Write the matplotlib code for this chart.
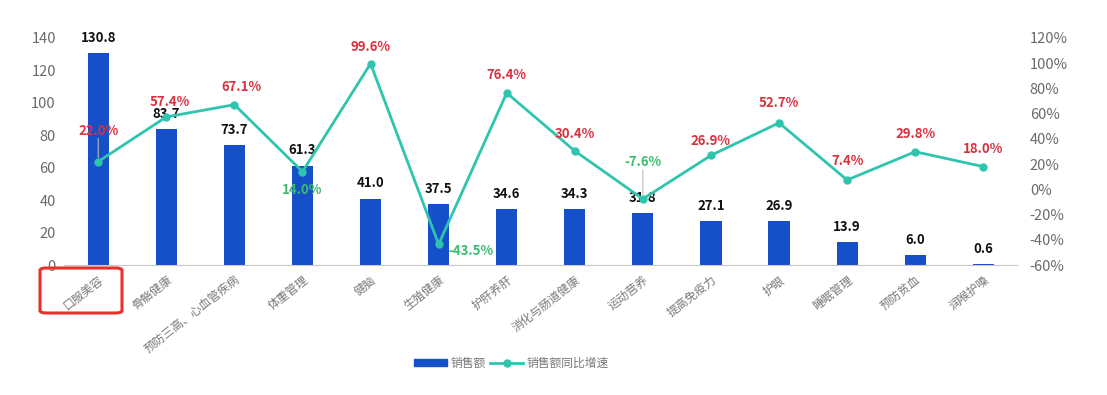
import matplotlib
matplotlib.use('Agg')
import matplotlib.pyplot as plt
from matplotlib.patches import FancyBboxPatch
from matplotlib.lines import Line2D
from matplotlib.patches import Patch
import numpy as np

plt.rcParams['font.family'] = ['Noto Sans CJK SC', 'DejaVu Sans']

# data
categories = ['口服美容', '骨骼健康', '预防三高、心血管疾病', '体重管理', '健脑', '生殖健康',
              '护肝养肝', '消化与肠道健康', '运动营养', '提高免疫力', '护眼', '睡眠管理',
              '预防贫血', '润喉护嗓']
sales = [130.8, 83.7, 73.7, 61.3, 41.0, 37.5, 34.6, 34.3, 31.8, 27.1, 26.9, 13.9, 6.0, 0.6]
growth = [22.0, 57.4, 67.1, 14.0, 99.6, -43.5, 76.4, 30.4, -7.6, 26.9, 52.7, 7.4, 29.8, 18.0]

# label placement (offset in px from the point) and colours
growth_offsets = [(0, 31), (3, 15), (7, 18), (0, -18), (0, 17), (32, -7), (0, 18),
                  (0, 17), (0, 37), (0, 14), (0, 20), (0, 19), (0, 18), (0, 18)]
leader = [True, False, False, False, False, False, False, False, True,
          False, False, False, False, False]
red = '#d9323f'
green = '#3dba6e'
label_colors = [green if (g < 0 or i == 3) else red for i, g in enumerate(growth)]

bar_color = '#1550c9'
line_color = '#2fc4ae'
grey = '#6a6a6a'

fig = plt.figure(figsize=(11.07, 3.95), dpi=100)
ax = fig.add_axes([0.058, 0.329, 0.861, 0.575])
ax2 = ax.twinx()

x = np.arange(len(categories))
ax.bar(x, sales, width=0.31, color=bar_color, zorder=2)
ax.set_xlim(-0.5, len(categories) - 0.5)
ax.set_ylim(0, 140)
ax.set_yticks(np.arange(0, 141, 20))
ax.tick_params(axis='y', length=0, labelsize=10.5, labelcolor=grey, pad=6)
ax.tick_params(axis='x', length=0, pad=6)
ax.set_xticks(x)
ax.set_xticklabels(categories, rotation=38, ha='right', rotation_mode='anchor',
                   fontsize=8.5, color='#7a7a7a')
for s in ['top', 'left', 'right']:
    ax.spines[s].set_visible(False)
    ax2.spines[s].set_visible(False)
ax2.spines['bottom'].set_visible(False)
ax.spines['bottom'].set_color('#c8c8c8')

for xi, v in zip(x, sales):
    ax.annotate(f'{v:.1f}', (xi, v), xytext=(0, 6), textcoords='offset points',
                ha='center', va='bottom', fontsize=9.5, fontweight='bold', color='#111111')

ax2.plot(x, growth, color=line_color, lw=2, marker='o', markersize=5, zorder=3)
ax2.set_ylim(-60, 120)
ax2.set_yticks(np.arange(-60, 121, 20))
ax2.set_yticklabels([f'{t}%' for t in range(-60, 121, 20)])
ax2.tick_params(axis='y', length=0, labelsize=10.5, labelcolor=grey, pad=9)

for i, (xi, g) in enumerate(zip(x, growth)):
    dx, dy = growth_offsets[i]
    ax2.annotate(f'{g:.1f}%', (xi, g), xytext=(dx * 0.72, dy * 0.72),
                 textcoords='offset points', ha='center', va='center',
                 fontsize=9.5, fontweight='bold', color=label_colors[i], zorder=5)
    if leader[i]:
        ax2.annotate('', (xi, g), xytext=(0, (dy - 8) * 0.72), textcoords='offset points',
                     arrowprops=dict(arrowstyle='-', color='#bbbbbb', lw=0.8,
                                     shrinkA=0, shrinkB=3))

# red highlight box around the first category label
box = FancyBboxPatch((40 / 1107, 1 - 313 / 395), 82 / 1107, 45 / 395,
                     boxstyle='round,pad=0,rounding_size=0.006', transform=fig.transFigure,
                     fill=False, edgecolor='#e8302a', lw=2.2)
fig.add_artist(box)

handles = [Patch(color=bar_color, label='销售额'),
           Line2D([0], [0], color=line_color, lw=2, marker='o', markersize=5, label='销售额同比增速')]
fig.legend(handles=handles, loc='center', bbox_to_anchor=(0.462, 0.081), ncol=2, frameon=False,
           fontsize=8.5, labelcolor='#777777', handlelength=2.8, handleheight=0.6,
           columnspacing=0.4, handletextpad=0.3)

plt.savefig('out.png', dpi=100)
